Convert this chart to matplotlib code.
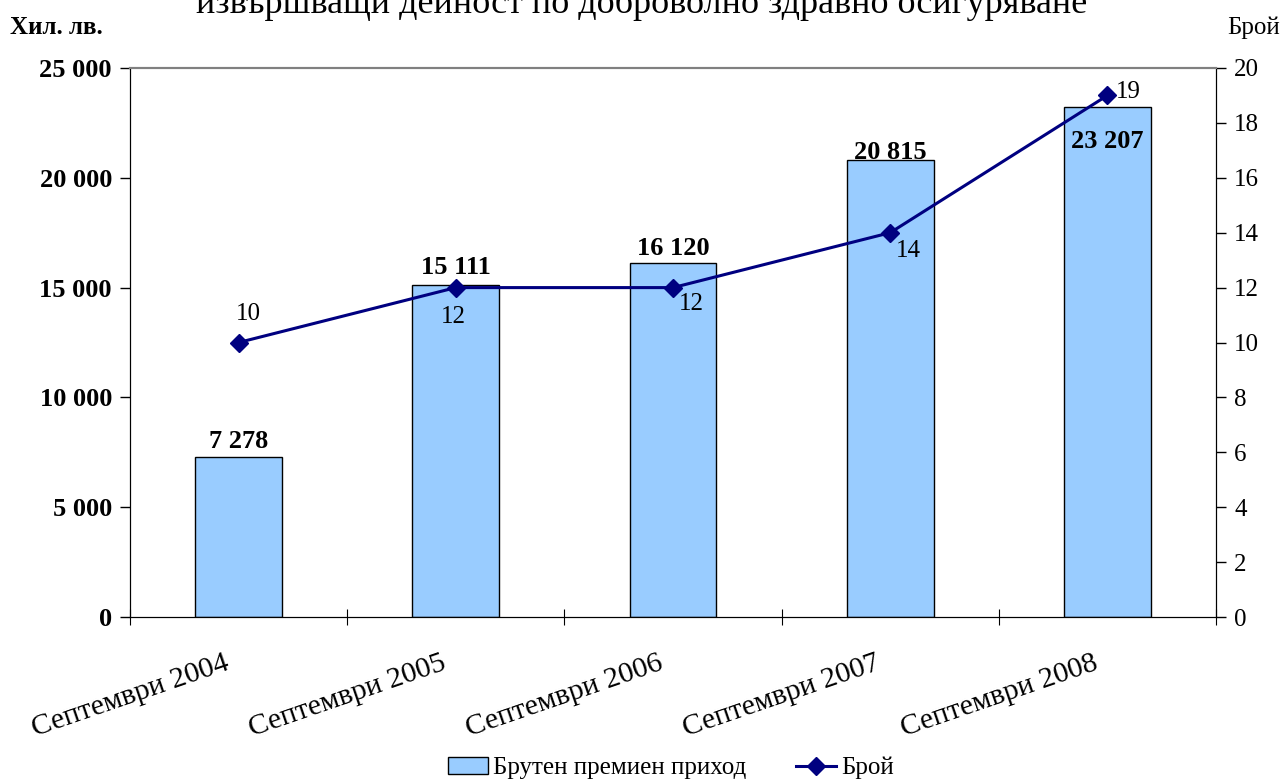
import matplotlib
matplotlib.use("Agg")
import matplotlib.pyplot as plt
from matplotlib.patches import Patch
from matplotlib.lines import Line2D
from matplotlib.transforms import ScaledTranslation

plt.rcParams['font.family'] = ['Liberation Serif', 'DejaVu Serif']

categories = ["Септември 2004", "Септември 2005", "Септември 2006", "Септември 2007", "Септември 2008"]
premiums = [7278, 15111, 16120, 20815, 23207]
counts = [10, 12, 12, 14, 19]
left_ticks = [0, 5000, 10000, 15000, 20000, 25000]
left_tick_labels = ["0", "5 000", "10 000", "15 000", "20 000", "25 000"]
right_ticks = [0, 2, 4, 6, 8, 10, 12, 14, 16, 18, 20]
title = "извършващи дейност по доброволно здравно осигуряване"
bar_label_texts = ["7 278", "15 111", "16 120", "20 815", "23 207"]

BAR_COLOR = "#99CCFF"
LINE_COLOR = "#000080"

fig = plt.figure(figsize=(12.84, 7.81), dpi=100)
ax = fig.add_axes([130/1284, 1-617/781, (1216-130)/1284, (617-68)/781])
ax2 = ax.twinx()

x = list(range(len(categories)))
ax.bar(x, premiums, width=0.4, color=BAR_COLOR, edgecolor="black", linewidth=1.0, zorder=2)
ax.set_xlim(-0.5, len(categories) - 0.5)
ax.set_ylim(0, 25000)
ax.set_yticks(left_ticks)
ax.set_yticklabels(left_tick_labels, fontsize=19, fontweight='bold')
ax.tick_params(axis='y', direction='out', length=7, width=1, pad=6)

# x ticks at category boundaries, labels at centers
ax.set_xticks([i - 0.5 for i in range(len(categories) + 1)])
ax.set_xticklabels([])
ax.tick_params(axis='x', which='major', direction='inout', length=11, width=0.8)
ax.set_xticks(x, minor=True)
ax.set_xticklabels(categories, minor=True, rotation=19, ha='right', va='top',
                   rotation_mode='anchor', fontsize=21.5)
ax.tick_params(axis='x', which='minor', length=0, pad=24)
shift = ScaledTranslation(-15/100, 0, fig.dpi_scale_trans)
for lbl in ax.get_xticklabels(minor=True):
    lbl.set_transform(lbl.get_transform() + shift)

ax2.plot(x, counts, color=LINE_COLOR, linewidth=2.2, marker='D', markersize=9, zorder=3)
ax2.set_ylim(0, 20)
ax2.set_yticks(right_ticks)
ax2.set_yticklabels([str(t) for t in right_ticks], fontsize=18)
ax2.tick_params(axis='y', direction='out', length=7, width=1, pad=6)

for a in (ax, ax2):
    a.spines['top'].set_color('#808080')
    a.spines['top'].set_linewidth(1.5)
    a.spines['left'].set_color('black')
    a.spines['right'].set_color('black')
    a.spines['bottom'].set_color('black')

# bar value labels (baseline offsets in pixels relative to bar top)
bar_label_offsets = [9, 11, 8, 1, -41]
for i, (v, t, dy) in enumerate(zip(premiums, bar_label_texts, bar_label_offsets)):
    ax.annotate(t, (i, v), xytext=(0, dy), textcoords='offset pixels',
                ha='center', va='baseline', fontsize=19, fontweight='bold', zorder=5)

# line value labels
offsets = [(10, 29), (-2, -29), (18, -16), (18, -18), (21, 3)]
for i, (c, off) in enumerate(zip(counts, offsets)):
    ax2.annotate(str(c), (i, c), xytext=off, textcoords='offset pixels',
                 ha='center', va='center', fontsize=18, zorder=5)

fig.text(0.5, 1 - 13/781, title, ha='center', va='baseline', fontsize=26)
fig.text(10/1284, 1 - 28/781, "Хил. лв.", ha='left', va='center', fontsize=18, fontweight='bold')
fig.text(1280/1284, 1 - 28/781, "Брой", ha='right', va='center', fontsize=18)

handles = [Patch(facecolor=BAR_COLOR, edgecolor='black', linewidth=1.0),
           Line2D([0], [0], color=LINE_COLOR, linewidth=2.2, marker='D', markersize=9)]
fig.legend(handles, ["Брутен премиен приход", "Брой"], loc='center',
           bbox_to_anchor=(671/1284, 1 - 768/781), ncol=2, frameon=False, fontsize=18,
           handlelength=1.6, columnspacing=2.0, handletextpad=0.2)

fig.savefig("out.png", dpi=100)
